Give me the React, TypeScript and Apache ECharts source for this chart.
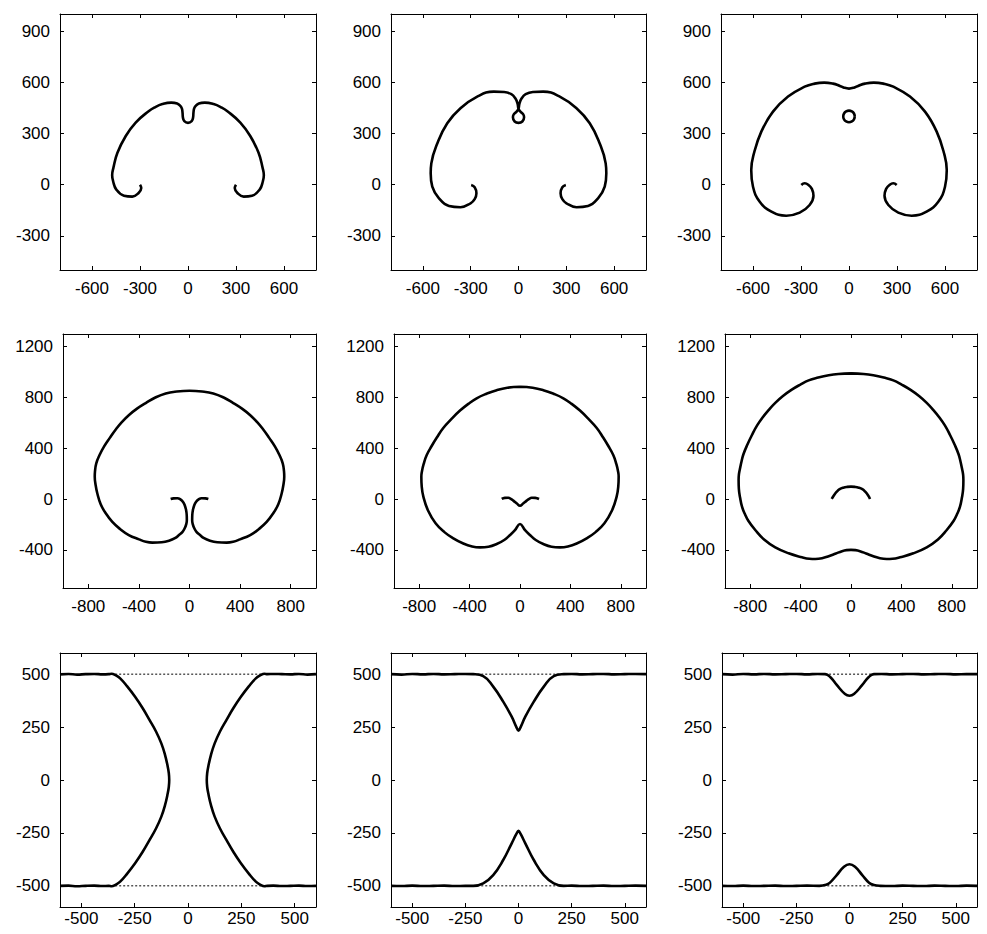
import React, { useEffect, useRef } from "react";
import * as echarts from "echarts";

// ---------- tick values ----------
const ticksXRow1 = [-600, -300, 0, 300, 600];
const ticksYRow1 = [-300, 0, 300, 600, 900];
const ticksXRow2 = [-800, -400, 0, 400, 800];
const ticksYRow2 = [-400, 0, 400, 800, 1200];
const ticksRow3 = [-500, -250, 0, 250, 500];

// ---------- row 1 ----------
const p1Curve = [
  [-300, 0], [-292, -20], [-310, -50], [-348, -70], [-400, -65], [-448, -29], [-468, 20], [-474, 55], [-466, 100],
  [-441, 187], [-389, 285], [-327, 364], [-244, 432], [-210, 452], [-160, 472], [-105, 481], [-68, 476], [-48, 462],
  [-38, 445], [-34, 420], [-32, 395], [-23, 372], [0, 362], [23, 372], [32, 395], [34, 420], [38, 445], [48, 462],
  [68, 476], [105, 481], [160, 472], [210, 452], [244, 432], [327, 364], [389, 285], [441, 187], [466, 100],
  [474, 55], [468, 20], [448, -29], [400, -65], [348, -70], [310, -50], [292, -20], [300, 0],
];

const p2Curve = [
  [-297, -2], [-275, -15], [-264, -50], [-275, -85], [-301, -109], [-364, -132], [-436, -125], [-499, -80],
  [-541, -12], [-551, 67], [-547, 125], [-509, 243], [-447, 360], [-364, 448], [-259, 516], [-155, 545],
  [-90, 543], [-45, 530], [-20, 506], [-6, 475], [0, 445], [12, 428], [30, 412], [35, 395], [24, 370], [0, 362],
  [-24, 370], [-35, 395], [-30, 412], [-12, 428], [0, 445], [6, 475], [20, 506], [45, 530], [90, 543], [155, 545],
  [259, 516], [364, 448], [447, 360], [509, 243], [547, 125], [551, 67], [541, -12], [499, -80], [436, -125],
  [364, -132], [301, -109], [275, -85], [264, -50], [275, -15], [297, -2],
];

const p3Curve = [
  [-298, -2], [-277, 8], [-255, 0], [-232, -25], [-222, -65], [-246, -119], [-308, -164], [-392, -182],
  [-485, -158], [-558, -100], [-600, -12], [-611, 86], [-594, 184], [-548, 311], [-475, 428], [-381, 516],
  [-277, 574], [-215, 592], [-155, 598], [-100, 592], [-60, 580], [-30, 568], [0, 563], [30, 568], [60, 580],
  [100, 592], [155, 598], [215, 592], [277, 574], [381, 516], [475, 428], [548, 311], [594, 184], [611, 86],
  [600, -12], [558, -100], [485, -158], [392, -182], [308, -164], [246, -119], [222, -65], [232, -25], [255, 0],
  [277, 8], [298, -2],
];

const p3Ring = [
  [36, 400], [31, 417], [18, 429], [0, 434], [-18, 429], [-31, 417], [-36, 400], [-31, 383], [-18, 371],
  [0, 366], [18, 371], [31, 383], [36, 400],
];

// ---------- row 2 ----------
const p4Curve = [
  [-149, 1], [-125, 6], [-96, 7], [-72, -2], [-51, -22], [-37, -50], [-27, -86], [-22, -125], [-21, -165],
  [-25, -195], [-38, -230], [-55, -258], [-83, -283], [-115, -308], [-162, -328], [-220, -340], [-294, -343],
  [-345, -336], [-399, -317], [-480, -283], [-550, -235], [-610, -180], [-662, -112], [-702, -40], [-729, 46],
  [-742, 110], [-749, 176], [-747, 220], [-737, 282], [-712, 345], [-676, 413], [-630, 482], [-583, 548],
  [-535, 606], [-478, 662], [-415, 712], [-346, 756], [-270, 800], [-188, 832], [-100, 847], [0, 853],
  [100, 847], [188, 832], [270, 800], [346, 756], [415, 712], [478, 662], [535, 606], [583, 548], [630, 482],
  [676, 413], [712, 345], [737, 282], [747, 220], [749, 176], [742, 110], [729, 46], [702, -40], [662, -112],
  [610, -180], [550, -235], [480, -283], [399, -317], [345, -336], [294, -343], [220, -340], [162, -328],
  [115, -308], [83, -283], [55, -258], [38, -230], [25, -195], [21, -165], [22, -125], [27, -86], [37, -50],
  [51, -22], [72, -2], [96, 7], [125, 6], [149, 1],
];

const p5Outer = [
  [0, 885], [100, 877], [185, 858], [265, 830], [344, 794], [410, 750], [476, 697], [545, 630], [609, 560],
  [660, 485], [700, 420], [741, 345], [765, 275], [778, 220], [783, 176], [780, 100], [767, 19], [730, -90],
  [670, -190], [600, -260], [529, -309], [450, -350], [380, -373], [317, -380], [250, -375], [185, -354],
  [125, -322], [79, -283], [40, -245], [0, -196], [-40, -245], [-79, -283], [-125, -322], [-185, -354],
  [-250, -375], [-317, -380], [-380, -373], [-450, -350], [-529, -309], [-600, -260], [-670, -190],
  [-730, -90], [-767, 19], [-780, 100], [-783, 176], [-778, 220], [-765, 275], [-741, 345], [-700, 420],
  [-660, 485], [-609, 560], [-545, 630], [-476, 697], [-410, 750], [-344, 794], [-265, 830], [-185, 858],
  [-100, 877], [0, 885],
];

const p5Inner = [
  [-145, 1], [-120, 10], [-93, 11], [-70, 0], [-53, -12], [-25, -35], [0, -52], [25, -35], [53, -12], [70, 0],
  [93, 11], [120, 10], [151, 1],
];

const p6Outer = [
  [0, 990], [100, 985], [177, 975], [260, 957], [336, 935], [405, 900], [470, 862], [540, 812], [601, 758],
  [655, 700], [700, 645], [745, 580], [786, 505], [822, 430], [853, 355], [868, 300], [881, 240], [890, 190],
  [892, 150], [890, 80], [880, 10], [865, -60], [842, -118], [815, -170], [760, -243], [690, -318],
  [601, -380], [495, -427], [389, -458], [330, -470], [283, -472], [230, -466], [177, -450], [120, -428],
  [71, -410], [35, -402], [0, -400], [-35, -402], [-71, -410], [-120, -428], [-177, -450], [-230, -466],
  [-283, -472], [-330, -470], [-389, -458], [-495, -427], [-601, -380], [-690, -318], [-760, -243],
  [-815, -170], [-842, -118], [-865, -60], [-880, 10], [-890, 80], [-892, 150], [-890, 190], [-881, 240],
  [-868, 300], [-853, 355], [-822, 430], [-786, 505], [-745, 580], [-700, 645], [-655, 700], [-601, 758],
  [-540, 812], [-470, 862], [-405, 900], [-336, 935], [-260, 957], [-177, 975], [-100, 985], [0, 990],
];

const p6Inner = [
  [-153, 1], [-135, 30], [-113, 58], [-90, 78], [-61, 90], [-30, 96], [0, 98], [30, 96], [61, 90], [90, 78],
  [113, 58], [135, 30], [151, 1],
];

// ---------- row 3 ----------
const p7Left = [
  [-600, 499], [-560, 501], [-520, 498], [-480, 500], [-440, 501], [-400, 499], [-372, 500], [-358, 502],
  [-340, 495], [-318, 480], [-285, 442], [-248, 393], [-213, 340], [-180, 283], [-150, 229], [-125, 173],
  [-108, 120], [-95, 63], [-90, 33], [-88, 0], [-90, -33], [-95, -63], [-108, -120], [-125, -173],
  [-150, -229], [-180, -283], [-213, -340], [-248, -393], [-285, -442], [-318, -480], [-340, -495],
  [-358, -502], [-372, -500], [-400, -501], [-440, -499], [-480, -500], [-520, -502], [-560, -499], [-600, -500],
];
const p7Right = [
  [600, 500], [560, 498], [520, 501], [480, 499], [440, 500], [400, 501], [372, 500], [358, 502], [340, 495],
  [318, 480], [285, 442], [248, 393], [213, 340], [180, 283], [150, 229], [125, 173], [108, 120], [95, 63],
  [90, 33], [88, 0], [90, -33], [95, -63], [108, -120], [125, -173], [150, -229], [180, -283], [213, -340],
  [248, -393], [285, -442], [318, -480], [340, -495], [358, -502], [372, -500], [400, -499], [440, -501],
  [480, -500], [520, -499], [560, -501], [600, -500],
];
const p7Dotted = [[-360, 360], [-360, 360]];

const p8Top = [
  [-600, 500], [-550, 498], [-500, 501], [-450, 499], [-400, 501], [-350, 499], [-300, 500], [-250, 501],
  [-213, 500], [-166, 491], [-119, 441], [-72, 370], [-32, 299], [-10, 250], [0, 233], [10, 250], [32, 299],
  [72, 370], [119, 441], [166, 491], [213, 500], [250, 501], [300, 499], [350, 500], [400, 501], [450, 499],
  [500, 500], [550, 501], [600, 500],
];
const p8Bottom = [
  [-600, -500], [-550, -501], [-500, -499], [-450, -501], [-400, -500], [-350, -499], [-300, -501],
  [-250, -500], [-213, -500], [-166, -488], [-119, -449], [-72, -378], [-32, -299], [-10, -255], [0, -240],
  [10, -255], [32, -299], [72, -378], [119, -449], [166, -488], [213, -500], [250, -499], [300, -501],
  [350, -500], [400, -499], [450, -501], [500, -500], [550, -499], [600, -500],
];
const p8Dotted = [[-213, 213], [-213, 213]];

const p9Top = [
  [-600, 500], [-550, 498], [-500, 501], [-450, 499], [-400, 501], [-350, 499], [-300, 500], [-250, 501],
  [-200, 499], [-150, 501], [-115, 500], [-92, 488], [-60, 449], [-21, 406], [0, 398], [21, 406], [60, 449],
  [92, 488], [115, 500], [150, 501], [200, 499], [250, 500], [300, 501], [350, 499], [400, 500], [450, 501],
  [500, 499], [550, 500], [600, 500],
];
const p9Bottom = [
  [-600, -500], [-550, -501], [-500, -499], [-450, -501], [-400, -500], [-350, -499], [-300, -501],
  [-250, -500], [-200, -499], [-142, -500], [-110, -495], [-92, -485], [-60, -449], [-26, -410], [0, -398],
  [26, -410], [60, -449], [92, -485], [115, -496], [143, -500], [200, -501], [250, -499], [300, -500],
  [350, -501], [400, -499], [450, -500], [500, -501], [550, -499], [600, -500],
];
const p9Dotted = [[-115, 115], [-142, 142]];

// ---------- layout ----------
type Panel = {
  box: [number, number, number, number];
  xr: [number, number];
  yr: [number, number];
  xt: number[];
  yt: number[];
  labelGap: number;
  curves: number[][][];
  dotted?: number[][];
};

const panels: Panel[] = [
  { box: [60, 14, 256, 256], xr: [-800, 800], yr: [-500, 1000], xt: ticksXRow1, yt: ticksYRow1, labelGap: 10, curves: [p1Curve] },
  { box: [391, 14, 255, 256], xr: [-800, 800], yr: [-500, 1000], xt: ticksXRow1, yt: ticksYRow1, labelGap: 10, curves: [p2Curve] },
  { box: [721, 14, 256, 256], xr: [-800, 800], yr: [-500, 1000], xt: ticksXRow1, yt: ticksYRow1, labelGap: 10, curves: [p3Curve, p3Ring] },
  { box: [63, 334, 253, 254], xr: [-1000, 1000], yr: [-700, 1300], xt: ticksXRow2, yt: ticksYRow2, labelGap: 10, curves: [p4Curve] },
  { box: [394, 334, 252, 254], xr: [-1000, 1000], yr: [-700, 1300], xt: ticksXRow2, yt: ticksYRow2, labelGap: 10, curves: [p5Outer, p5Inner] },
  { box: [725, 334, 252, 254], xr: [-1000, 1000], yr: [-700, 1300], xt: ticksXRow2, yt: ticksYRow2, labelGap: 10, curves: [p6Outer, p6Inner] },
  { box: [60, 653, 256, 254], xr: [-600, 600], yr: [-600, 600], xt: ticksRow3, yt: ticksRow3, labelGap: 3, curves: [p7Left, p7Right], dotted: p7Dotted },
  { box: [391, 653, 255, 254], xr: [-600, 600], yr: [-600, 600], xt: ticksRow3, yt: ticksRow3, labelGap: 3, curves: [p8Top, p8Bottom], dotted: p8Dotted },
  { box: [722, 653, 255, 254], xr: [-600, 600], yr: [-600, 600], xt: ticksRow3, yt: ticksRow3, labelGap: 3, curves: [p9Top, p9Bottom], dotted: p9Dotted },
];

const FONT = "'Liberation Sans', Arial, Helvetica, sans-serif";

function buildOption() {
  const grid: any[] = [];
  const xAxis: any[] = [];
  const yAxis: any[] = [];
  const series: any[] = [];
  const lineCommon = { show: true, onZero: false, lineStyle: { color: "#000", width: 1 } };
  const tick = (vals: number[]) => ({ show: true, inside: true, length: 4, customValues: vals, lineStyle: { color: "#000", width: 1 } });
  const label = (vals: number[], margin: number) => ({
    show: true, customValues: vals, color: "#000", fontSize: 17, fontFamily: FONT, margin,
    formatter: (v: number) => String(v),
  });
  panels.forEach((p, i) => {
    grid.push({ left: p.box[0], top: p.box[1], width: p.box[2], height: p.box[3], containLabel: false });
    xAxis.push({
      type: "value", gridIndex: i, position: "bottom", min: p.xr[0], max: p.xr[1],
      axisLine: lineCommon, axisTick: tick(p.xt), axisLabel: label(p.xt, p.labelGap), splitLine: { show: false },
    });
    xAxis.push({
      type: "value", gridIndex: i, position: "top", min: p.xr[0], max: p.xr[1],
      axisLine: lineCommon, axisTick: tick(p.xt), axisLabel: { show: false }, splitLine: { show: false },
    });
    yAxis.push({
      type: "value", gridIndex: i, position: "left", min: p.yr[0], max: p.yr[1],
      axisLine: lineCommon, axisTick: tick(p.yt), axisLabel: label(p.yt, 10), splitLine: { show: false },
    });
    yAxis.push({
      type: "value", gridIndex: i, position: "right", min: p.yr[0], max: p.yr[1],
      axisLine: lineCommon, axisTick: tick(p.yt), axisLabel: { show: false }, splitLine: { show: false },
    });
    if (p.dotted) {
      const ys = [500, -500];
      p.dotted.forEach((xs, k) => {
        series.push({
          type: "line", xAxisIndex: 2 * i, yAxisIndex: 2 * i, silent: true, symbol: "none", z: 1,
          data: [[xs[0], ys[k]], [xs[1], ys[k]]],
          lineStyle: { color: "#000", width: 1, type: [2, 2] },
        });
      });
    }
    p.curves.forEach((c) => {
      series.push({
        type: "line", xAxisIndex: 2 * i, yAxisIndex: 2 * i, silent: true, symbol: "none", z: 3,
        smooth: 0.45, data: c, lineStyle: { color: "#000", width: 2.6 },
      });
    });
  });
  return { animation: false, backgroundColor: "#fff", grid, xAxis, yAxis, series };
}

export default function App() {
  const ref = useRef<HTMLDivElement>(null);
  useEffect(() => {
    document.body.style.margin = "0";
    if (!ref.current) return;
    const chart = echarts.init(ref.current, undefined, { renderer: "svg" });
    chart.setOption(buildOption() as any);
    return () => chart.dispose();
  }, []);
  return <div ref={ref} style={{ width: 987, height: 934, background: "#fff" }} />;
}
